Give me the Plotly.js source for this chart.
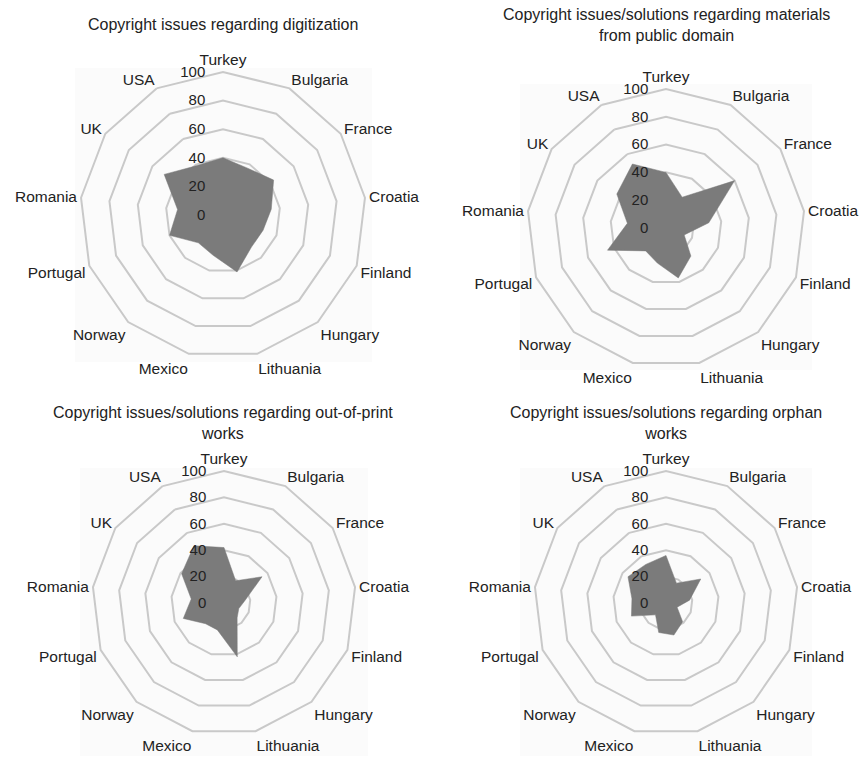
<!DOCTYPE html>
<html>
<head>
<meta charset="utf-8">
<script src="https://cdn.plot.ly/plotly-3.0.1.min.js"></script>
<style>html,body{margin:0;padding:0;background:#fff;}#chart{width:865px;height:758px;}</style>
</head>
<body>
<div id="chart"></div>
<script>
const categories = ['Turkey','Bulgaria','France','Croatia','Finland','Hungary','Lithuania','Mexico','Norway','Portugal','Romania','UK','USA'];
const digitization = [40,37,43,34,30,30,41,29,26,40,32,50,39];
const publicDomain = [40,25,60,31,14,27,37,26,22,45,28,43,52];
const outOfPrint = [42,19,35,16,12,15,42,21,21,33,25,39,49];
const orphanWorks = [36,17,32,18,9,19,25,23,12,28,26,35,33];
const radialTicks = [0,20,40,60,80,100];
const titles = [
  'Copyright issues regarding digitization',
  'Copyright issues/solutions regarding materials<br>from public domain',
  'Copyright issues/solutions regarding out-of-print<br>works',
  'Copyright issues/solutions regarding orphan<br>works'
];

const W = 865, H = 758;
const FONT = 'Liberation Sans, Arial, Helvetica, sans-serif';
const series = [digitization, publicDomain, outOfPrint, orphanWorks];
// polar centers and radii in pixels
const geo = [
  {cx:223, cy:215, r:143, tx:223, ty:24, bg:[75,68,372,362]},
  {cx:666, cy:228, r:139, tx:666, ty:25, bg:[520,84,812,370]},
  {cx:224, cy:603, r:132, tx:223, ty:423, bg:[80,468,368,756]},
  {cx:666, cy:603, r:132, tx:666, ty:423, bg:[520,468,812,756]}
];

const data = [];
const layout = {
  width: W, height: H,
  margin: {l:0, r:0, t:0, b:0},
  paper_bgcolor: '#fff',
  showlegend: false,
  font: {family: FONT, color: '#222'},
  annotations: [],
  shapes: []
};

series.forEach((vals, i) => {
  const key = i === 0 ? 'polar' : 'polar' + (i + 1);
  data.push({
    type: 'scatterpolar',
    r: vals.concat([vals[0]]),
    theta: categories.concat([categories[0]]),
    subplot: key,
    mode: 'lines',
    fill: 'toself',
    fillcolor: '#7b7b7b',
    line: {color: '#7b7b7b', width: 0.5},
    hoverinfo: 'skip'
  });
  const g = geo[i];
  layout[key] = {
    domain: {
      x: [(g.cx - g.r) / W, (g.cx + g.r) / W],
      y: [1 - (g.cy + g.r) / H, 1 - (g.cy - g.r) / H]
    },
    gridshape: 'linear',
    bgcolor: 'rgba(0,0,0,0)',
    angularaxis: {
      type: 'category',
      categoryorder: 'array',
      categoryarray: categories,
      direction: 'clockwise',
      rotation: 90,
      showgrid: false,
      showline: true,
      linecolor: '#c9c9c9',
      linewidth: 2,
      ticks: '',
      tickfont: {family: FONT, size: 15.5, color: '#222'}
    },
    radialaxis: {
      range: [0, 100],
      tickvals: radialTicks,
      ticktext: radialTicks.map(String),
      angle: 90,
      side: 'counterclockwise',
      showline: false,
      ticks: 'outside',
      ticklen: 12,
      tickcolor: 'rgba(0,0,0,0)',
      gridcolor: '#c9c9c9',
      gridwidth: 2,
      tickangle: 90,
      tickfont: {family: FONT, size: 15, color: '#222'}
    }
  };
  layout.annotations.push({
    xref: 'paper', yref: 'paper',
    x: g.tx / W, y: 1 - g.ty / H,
    xanchor: 'center', yanchor: 'middle',
    text: titles[i], showarrow: false,
    font: {family: FONT, size: 16, color: '#222'}
  });
  layout.shapes.push({
    type: 'rect', xref: 'paper', yref: 'paper', layer: 'below',
    x0: g.bg[0] / W, x1: g.bg[2] / W,
    y0: 1 - g.bg[3] / H, y1: 1 - g.bg[1] / H,
    fillcolor: '#fbfbfb', line: {width: 0}
  });
});

Plotly.newPlot('chart', data, layout, {staticPlot: true, displayModeBar: false});
</script>
</body>
</html>
